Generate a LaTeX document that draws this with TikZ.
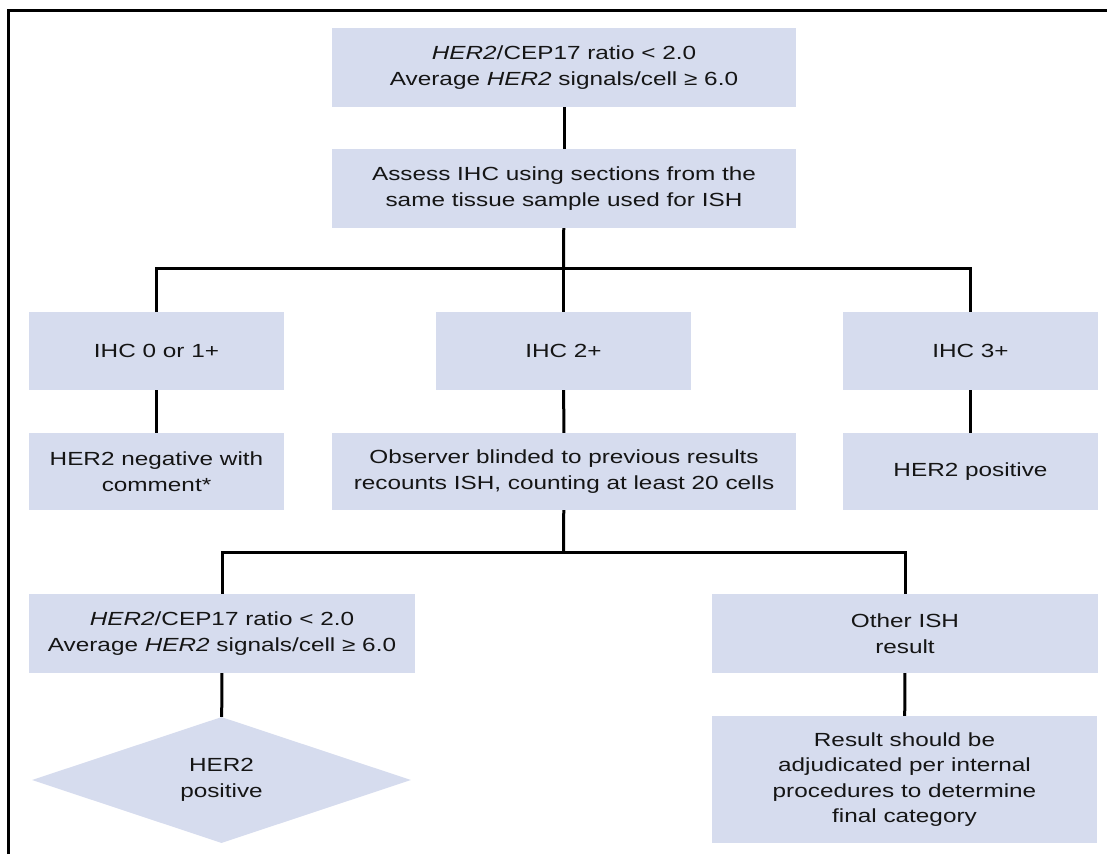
\documentclass[tikz,border=0pt]{standalone}
\usepackage{fontspec}
\setmainfont{Liberation Sans}[FakeStretch=1.28]
\usetikzlibrary{shapes.geometric}
\definecolor{boxfill}{HTML}{D6DCEE}
\definecolor{txt}{HTML}{151515}
\begin{document}
\begin{tikzpicture}[x=1pt,y=-1pt,
  box/.style={fill=boxfill,draw=none,inner sep=0pt,align=center,text=txt,
    font={\fontsize{19}{25.5}\selectfont}},
  conn/.style={line width=3pt,draw=black},
  frame/.style={line width=3pt,draw=black}]
\useasboundingbox (0,0) rectangle (1107,854);
\draw[frame] (8.5,854) -- (8.5,10.5) -- (1107,10.5);

\node[box,minimum width=464,minimum height=79] (top) at (564,67.5)
  {\textit{HER2}/CEP17 ratio < 2.0\\Average \textit{HER2} signals/cell ≥ 6.0};
\node[box,minimum width=464,minimum height=79] (assess) at (564,188.5)
  {Assess IHC using sections from the\\same tissue sample used for ISH};

\node[box,minimum width=255,minimum height=78] (ihc0) at (156.5,351) {IHC 0 or 1+};
\node[box,minimum width=255,minimum height=78] (ihc2) at (563.5,351) {IHC 2+};
\node[box,minimum width=255,minimum height=78] (ihc3) at (970.5,351) {IHC 3+};

\node[box,minimum width=255,minimum height=77] (neg) at (156.5,471.5) {HER2 negative with\\comment*};
\node[box,minimum width=464,minimum height=77] (obs) at (564,471.5)
  {Observer blinded to previous results\\recounts ISH, counting at least 20 cells};
\node[box,minimum width=255,minimum height=77] (pos) at (970.5,471.5) {HER2 positive};

\node[box,minimum width=386,minimum height=79] (ratio2) at (222,633.5)
  {\textit{HER2}/CEP17 ratio < 2.0\\Average \textit{HER2} signals/cell ≥ 6.0};
\node[box,minimum width=386,minimum height=79] (other) at (905,633.5) {Other ISH\\result};

\node[box,shape=diamond,aspect=3,minimum width=379,minimum height=126] (dia) at (221.5,780) {HER2\\positive};
\node[box,minimum width=385,minimum height=127] (result) at (904.5,779.5)
  {Result should be\\adjudicated per internal\\procedures to determine\\final category};

\coordinate (j1) at (563.5,268);
\coordinate (j2) at (563.5,552);

\draw[conn] (top) -- (assess);
\draw[conn] (assess) -- (j1);
\draw[conn] (j1) -- (ihc2);
\draw[conn] (ihc0.north) |- (j1) -| (ihc3.north);
\draw[conn] (ihc0) -- (neg);
\draw[conn] (ihc2) -- (obs);
\draw[conn] (ihc3) -- (pos);
\draw[conn] (obs) -- (j2);
\draw[conn] (ratio2.north) |- (j2) -| (other.north);
\draw[conn] (ratio2) -- (dia);
\draw[conn] (other) -- (result);
\end{tikzpicture}
\end{document}
